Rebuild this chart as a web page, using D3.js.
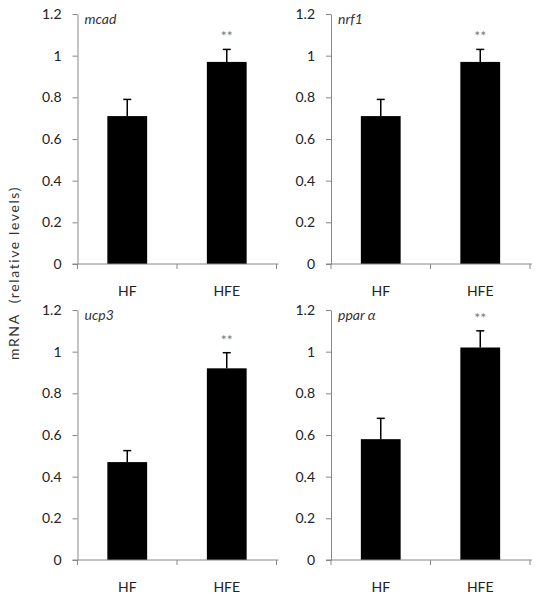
<!DOCTYPE html>
<html>
<head>
<meta charset="utf-8">
<script src="https://cdn.jsdelivr.net/npm/d3@7"></script>
<style>
  html, body { margin: 0; padding: 0; background: #fff; }
  svg { display: block; }
</style>
</head>
<body>
<svg id="chart" width="536" height="601"></svg>
<script>
const categories = ["HF", "HFE"];
const genes = ["mcad", "nrf1", "ucp3", "ppar α"];
const means = [
  [0.71, 0.97],
  [0.71, 0.97],
  [0.47, 0.92],
  [0.58, 1.02]
];
const errors = [
  [0.08, 0.06],
  [0.08, 0.06],
  [0.055, 0.075],
  [0.10, 0.08]
];
const significance = [
  ["", "**"],
  ["", "**"],
  ["", "**"],
  ["", "**"]
];
const yTicks = [0, 0.2, 0.4, 0.6, 0.8, 1, 1.2];
const yLabel = "mRNA  (relative levels)";

const svg = d3.select("#chart");
const panelW = 199, panelH = 250;
const origins = [[77.5, 14], [331, 14], [77.5, 310], [331, 310]];
const font = "Lato, 'Open Sans', sans-serif";

const y = d3.scaleLinear().domain([0, 1.2]).range([panelH, 0]);
const xBand = d3.scaleBand().domain(categories).range([0, panelW]).paddingInner(0.6).paddingOuter(0.3);
const xCat = d3.scaleBand().domain(categories).range([0, panelW]).padding(0);

genes.forEach((g, i) => {
  const p = svg.append("g").attr("transform", `translate(${origins[i][0]},${origins[i][1]})`);

  p.selectAll("rect.bar").data(categories).enter().append("rect")
    .attr("x", c => xBand(c))
    .attr("y", (c, j) => y(means[i][j]))
    .attr("width", xBand.bandwidth())
    .attr("height", (c, j) => panelH - y(means[i][j]))
    .attr("fill", "#000");

  categories.forEach((c, j) => {
    const cx = xBand(c) + xBand.bandwidth() / 2;
    const top = y(means[i][j] + errors[i][j]);
    p.append("line").attr("x1", cx).attr("x2", cx)
      .attr("y1", y(means[i][j])).attr("y2", top)
      .attr("stroke", "#000").attr("stroke-width", 1.5);
    p.append("line").attr("x1", cx - 4).attr("x2", cx + 4)
      .attr("y1", top).attr("y2", top)
      .attr("stroke", "#000").attr("stroke-width", 1.5);
    if (significance[i][j]) {
      p.append("text").attr("x", cx).attr("y", top - 8)
        .attr("text-anchor", "middle")
        .attr("font-family", font).attr("font-size", 14)
        .attr("fill", "#777").text(significance[i][j]);
    }
  });

  const ya = p.append("g").call(d3.axisLeft(y).tickValues(yTicks)
      .tickFormat(d => d === 0 ? "0" : String(d)).tickSize(5).tickSizeOuter(0).tickPadding(11));
  ya.select(".domain").attr("stroke", "#888");
  ya.selectAll(".tick line").attr("stroke", "#888");
  ya.selectAll(".tick text").attr("font-family", font).attr("font-size", 14).attr("fill", "#222");

  const xa = p.append("g").attr("transform", `translate(0,${panelH})`);
  xa.append("line").attr("x1", -5).attr("x2", panelW + 2).attr("y1", 0).attr("y2", 0)
    .attr("stroke", "#888");
  const tickPos = [0, xCat("HFE"), panelW];
  xa.selectAll("line.xt").data(tickPos).enter().append("line")
    .attr("x1", d => d).attr("x2", d => d).attr("y1", 0).attr("y2", 5)
    .attr("stroke", "#888");
  xa.selectAll("text").data(categories).enter().append("text")
    .attr("x", c => xBand(c) + xBand.bandwidth() / 2)
    .attr("y", 32)
    .attr("text-anchor", "middle")
    .attr("font-family", font).attr("font-size", 14).attr("fill", "#222")
    .text(c => c);

  p.append("text").attr("x", 7).attr("y", 10)
    .attr("font-family", font).attr("font-size", 14).attr("font-style", "italic")
    .attr("fill", "#333").style("white-space", "pre").text(g);
});

svg.append("text")
  .attr("transform", "translate(19,273) rotate(-90)")
  .attr("text-anchor", "middle")
  .attr("font-family", font).attr("font-size", 14)
  .attr("letter-spacing", 1.6)
  .attr("fill", "#333")
  .style("white-space", "pre")
  .text(yLabel);
</script>
</body>
</html>
